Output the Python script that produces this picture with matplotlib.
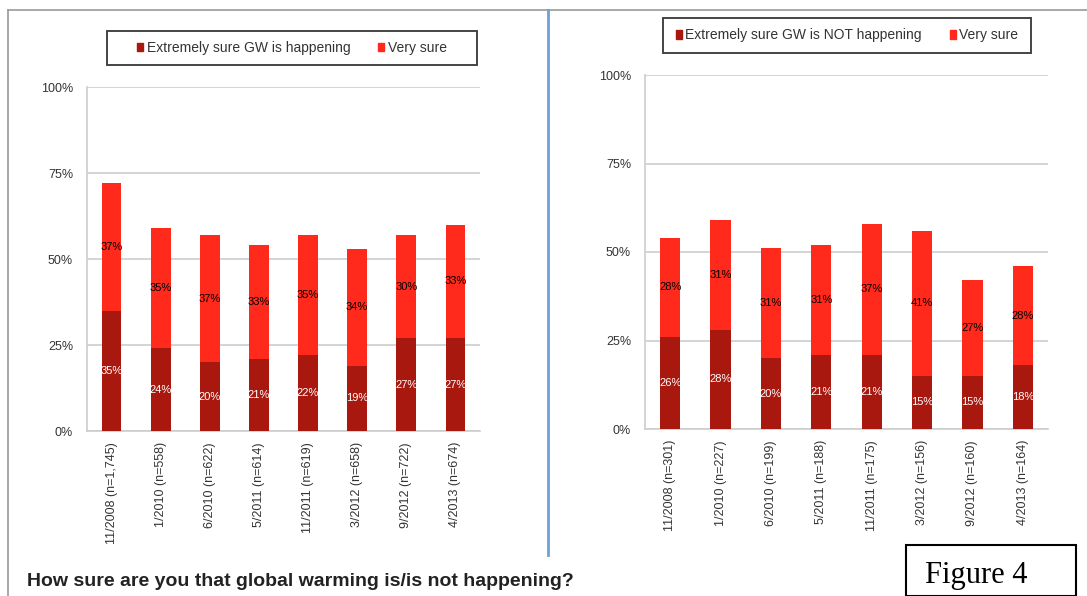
#!/usr/bin/env python3

import numpy as np
import matplotlib
matplotlib.use("Agg")
import matplotlib.pyplot as plt
from matplotlib.lines import Line2D
from matplotlib.patches import Rectangle, Patch


# Survey waves: certainty that global warming is / is not happening

plt.rcParams["font.family"] = ["Liberation Sans", "DejaVu Sans"]

DARK = "#A8180F"
BRIGHT = "#FF2A1C"
GRID = "#CDCDCD"
TEXT = "#333333"

left_waves = ["11/2008 (n=1,745)", "1/2010 (n=558)", "6/2010 (n=622)",
              "5/2011 (n=614)", "11/2011 (n=619)", "3/2012 (n=658)",
              "9/2012 (n=722)", "4/2013 (n=674)"]
left_extremely = [35, 24, 20, 21, 22, 19, 27, 27]
left_very = [37, 35, 37, 33, 35, 34, 30, 33]

right_waves = ["11/2008 (n=301)", "1/2010 (n=227)", "6/2010 (n=199)",
               "5/2011 (n=188)", "11/2011 (n=175)", "3/2012 (n=156)",
               "9/2012 (n=160)", "4/2013 (n=164)"]
right_extremely = [26, 28, 20, 21, 21, 15, 15, 18]
right_very = [28, 31, 31, 31, 37, 41, 27, 28]

yticks = [0, 25, 50, 75, 100]

W, H = 1087, 596


def fig_box(x0, y0, x1, y1):
    # pixel box (top-left origin) to figure fractions
    return (x0 / W, 1 - y1 / H, (x1 - x0) / W, (y1 - y0) / H)


def stacked_panel(ax, waves, extremely, very, legend_label, legend_box):
    fig = ax.figure
    x = np.arange(len(waves))
    extremely = np.array(extremely)
    very = np.array(very)

    ax.bar(x, extremely, width=0.4, color=DARK, zorder=3)
    ax.bar(x, very, width=0.4, bottom=extremely, color=BRIGHT, zorder=3)

    for xi, e, v in zip(x, extremely, very):
        ax.text(xi, e / 2, f"{e}%", ha="center", va="center",
                fontsize=8, color="white", zorder=4)
        ax.text(xi, e + v / 2, f"{v}%", ha="center", va="center",
                fontsize=8, color="black", zorder=4)

    ax.set_xlim(-0.5, len(waves) - 0.5)
    ax.set_ylim(0, 100)
    ax.set_yticks(yticks)
    ax.set_yticklabels([f"{t}%" for t in yticks], fontsize=9, color=TEXT)
    ax.set_xticks(x)
    ax.set_xticklabels(waves, rotation=90, fontsize=9, color=TEXT)
    ax.tick_params(length=0, pad=10)
    ax.tick_params(axis="x", pad=8)

    ax.grid(axis="y", color=GRID, linewidth=1.2, zorder=0)
    for side in ["top", "right"]:
        ax.spines[side].set_visible(False)
    for side in ["left", "bottom"]:
        ax.spines[side].set_color(GRID)
        ax.spines[side].set_linewidth(1.2)

    # legend box: a plain frame with the entries centred inside it
    x0, y0, w, h = fig_box(*legend_box)
    fig.add_artist(Rectangle((x0, y0), w, h, transform=fig.transFigure,
                             fill=False, edgecolor="#444444", linewidth=1.4))
    handles = [Patch(color=DARK), Patch(color=BRIGHT)]
    leg = fig.legend(handles, [legend_label, "Very sure"], ncol=2,
                     loc="center", bbox_to_anchor=(x0 + w / 2, y0 + h / 2),
                     bbox_transform=fig.transFigure, fontsize=10,
                     frameon=False, handlelength=0.45, handleheight=0.55,
                     handletextpad=0.25, columnspacing=2.0)
    for t in leg.get_texts():
        t.set_color(TEXT)
    return leg


fig = plt.figure(figsize=(W / 100, H / 100), dpi=100)

ax_l = fig.add_axes(fig_box(87, 87, 480, 431))
ax_r = fig.add_axes(fig_box(645, 75, 1048, 429))

stacked_panel(ax_l, left_waves, left_extremely, left_very,
              "Extremely sure GW is happening", (107, 31, 477, 65))
stacked_panel(ax_r, right_waves, right_extremely, right_very,
              "Extremely sure GW is NOT happening", (663, 18, 1031, 53))

# outer frame and panel divider
fig.add_artist(Line2D([8 / W, 1.0], [1 - 10 / H, 1 - 10 / H],
                      color="#9A9A9A", linewidth=1.2))
fig.add_artist(Line2D([8 / W, 8 / W], [0, 1 - 10 / H],
                      color="#9A9A9A", linewidth=1.2))
fig.add_artist(Line2D([548 / W, 548 / W], [1 - 555 / H, 1 - 10 / H],
                      color="#6E9FD6", linewidth=2.0))

fig.text(27 / W, 1 - 582 / H,
         "How sure are you that global warming is/is not happening?",
         fontsize=14, fontweight="bold", color="#222222",
         ha="left", va="center")

fig.add_artist(Rectangle((906 / W, 0), (1076 - 906) / W, (596 - 545) / H,
                         transform=fig.transFigure, fill=False,
                         edgecolor="black", linewidth=1.5))
fig.text(925 / W, 1 - 576 / H, "Figure 4", fontsize=22,
         family="Liberation Serif", color="black", ha="left", va="center")

fig.savefig("out.png", dpi=100)
